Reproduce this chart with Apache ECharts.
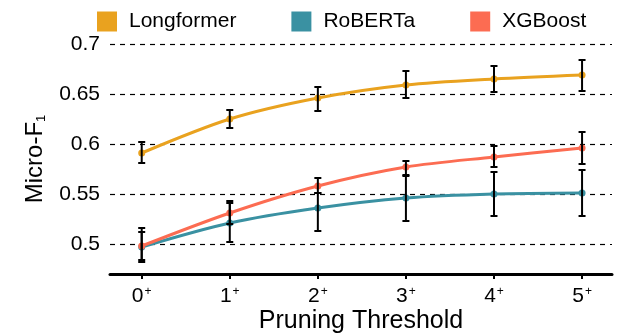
<!DOCTYPE html>
<html>
<head>
<meta charset="utf-8">
<script src="https://cdn.jsdelivr.net/npm/echarts@6/dist/echarts.min.js"></script>
<style>
  html, body { margin: 0; padding: 0; background: #fff; }
  #chart { width: 617px; height: 333px; }
</style>
</head>
<body>
<div id="chart"></div>
<script>
// pruning thresholds (x positions) and their labels
const thresholds = [0, 1, 2, 3, 4, 5];
const tickLabels = ['0', '1', '2', '3', '4', '5'];
const yTicks = [0.5, 0.55, 0.6, 0.65, 0.7];

const longformer = [0.591, 0.625, 0.646, 0.659, 0.665, 0.669];
const longformerLow = [0.581, 0.616, 0.633, 0.646, 0.652, 0.653];
const longformerHigh = [0.602, 0.634, 0.657, 0.673, 0.678, 0.684];

const roberta = [0.497, 0.521, 0.536, 0.546, 0.550, 0.551];
const robertaLow = [0.484, 0.502, 0.513, 0.523, 0.528, 0.528];
const robertaHigh = [0.512, 0.541, 0.551, 0.569, 0.572, 0.574];

const xgboost = [0.498, 0.531, 0.558, 0.577, 0.587, 0.596];
const xgboostLow = [0.482, 0.520, 0.551, 0.568, 0.577, 0.580];
const xgboostHigh = [0.516, 0.543, 0.566, 0.583, 0.598, 0.612];

const colors = ['#E9A21F', '#3A91A2', '#FC6C52'];
const font = '"Liberation Sans", Arial, Helvetica, sans-serif';

function points(vals) {
  return thresholds.map((x, i) => [x, vals[i]]);
}
function bars(low, high) {
  return thresholds.map((x, i) => [x, low[i], high[i]]);
}

function lineSeries(name, vals, color) {
  return {
    name: name,
    type: 'line',
    data: points(vals),
    smooth: 0.3,
    symbol: 'circle',
    symbolSize: 7,
    lineStyle: { width: 3, color: color },
    itemStyle: { color: color },
    z: 2
  };
}

function errorSeries(low, high) {
  return {
    type: 'custom',
    data: bars(low, high),
    z: 3,
    silent: true,
    renderItem: function (params, api) {
      const x = api.value(0);
      const lo = api.coord([x, api.value(1)]);
      const hi = api.coord([x, api.value(2)]);
      const cap = 3.5;
      const style = { stroke: '#000', lineWidth: 2 };
      return {
        type: 'group',
        children: [
          { type: 'line', shape: { x1: lo[0], y1: lo[1], x2: hi[0], y2: hi[1] }, style: style },
          { type: 'line', shape: { x1: lo[0] - cap, y1: lo[1], x2: lo[0] + cap, y2: lo[1] }, style: style },
          { type: 'line', shape: { x1: hi[0] - cap, y1: hi[1], x2: hi[0] + cap, y2: hi[1] }, style: style }
        ]
      };
    }
  };
}

const chart = echarts.init(document.getElementById('chart'), null, { renderer: 'canvas' });

chart.setOption({
  animation: false,
  textStyle: { fontFamily: font },
  legend: {
    top: 11,
    left: 97,
    padding: 0,
    icon: 'rect',
    itemWidth: 20,
    itemHeight: 20,
    itemGap: 55,
    formatter: function (name) { return '{t|' + name + '}'; },
    textStyle: {
      color: '#000',
      rich: { t: { fontSize: 21, color: '#000', fontFamily: font, padding: [0, 0, 0, 7] } }
    },
    data: ['Longformer', 'RoBERTa', 'XGBoost']
  },
  grid: { left: 110, right: 5, top: 44, bottom: 59, containLabel: false, outerBoundsMode: 'none' },
  xAxis: {
    type: 'value',
    min: -0.36,
    max: 5.34,
    name: 'Pruning Threshold',
    nameLocation: 'middle',
    nameGap: 35,
    nameMoveOverlap: false,
    nameTextStyle: { fontSize: 25, color: '#000', fontFamily: font },
    axisLine: { show: true, onZero: false, lineStyle: { color: '#000', width: 3 } },
    axisTick: { show: true, customValues: thresholds, length: 5, lineStyle: { color: '#000', width: 2 } },
    axisLabel: {
      customValues: thresholds,
      margin: 12,
      formatter: function (v) {
        return '{n|' + tickLabels[thresholds.indexOf(v)] + '}{s|+}';
      },
      rich: {
        n: { fontSize: 21, color: '#000', fontFamily: font },
        s: { fontSize: 12, color: '#000', fontFamily: font, padding: [0, 0, 9, 1] }
      }
    },
    splitLine: { show: false }
  },
  yAxis: {
    type: 'value',
    min: 0.47,
    max: 0.7,
    name: '{a|Micro-F}{b|1}',
    nameLocation: 'middle',
    nameGap: 62,
    nameRotate: 90,
    nameMoveOverlap: false,
    nameTextStyle: {
      rich: {
        a: { fontSize: 24, color: '#000', fontFamily: font },
        b: { fontSize: 13, color: '#000', fontFamily: font, padding: [12, 0, 0, 0] }
      }
    },
    axisLine: { show: false },
    axisTick: { show: false, customValues: yTicks },
    axisLabel: {
      customValues: yTicks,
      margin: 10,
      fontSize: 21,
      color: '#000',
      fontFamily: font,
      formatter: function (v) { return String(+v.toFixed(2)); }
    },
    splitLine: { show: true, lineStyle: { color: '#000', width: 1.2, type: [5, 5] } }
  },
  color: colors,
  series: [
    lineSeries('Longformer', longformer, colors[0]),
    lineSeries('RoBERTa', roberta, colors[1]),
    lineSeries('XGBoost', xgboost, colors[2]),
    errorSeries(longformerLow, longformerHigh),
    errorSeries(robertaLow, robertaHigh),
    errorSeries(xgboostLow, xgboostHigh)
  ]
});
</script>
</body>
</html>
